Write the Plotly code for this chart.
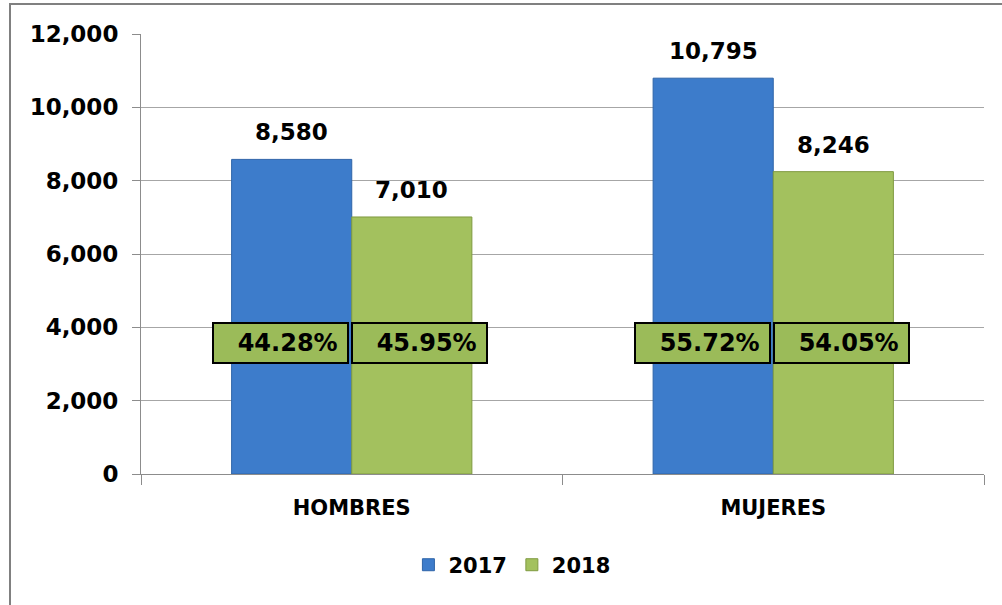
import plotly.graph_objects as go

categories = ["HOMBRES", "MUJERES"]
series_names = ["2017", "2018"]
values_2017 = [8580, 10795]
values_2018 = [7010, 8246]
pct_2017 = ["44.28%", "55.72%"]
pct_2018 = ["45.95%", "54.05%"]

FONT = "DejaVu Sans"
BLUE = "#3D7CCB"
BLUE_EDGE = "#2F64A8"
GREEN = "#A3C15E"
GREEN_EDGE = "#7F9A40"
BOX_GREEN = "#9BBB59"
PCT_LEVEL = 3573  # vertical position of the percentage boxes (axis units)

fig = go.Figure()
fig.add_trace(go.Bar(
    x=categories, y=values_2017, name=series_names[0],
    marker=dict(color=BLUE, line=dict(color=BLUE_EDGE, width=1)),
))
fig.add_trace(go.Bar(
    x=categories, y=values_2018, name=series_names[1],
    marker=dict(color=GREEN, line=dict(color=GREEN_EDGE, width=1)),
))

annotations = []
# value labels above bars
for vals, shift in ((values_2017, -60), (values_2018, 60)):
    for c, v in zip(categories, vals):
        annotations.append(dict(
            x=c, y=v, xref="x", yref="y", text=f"{v:,}", showarrow=False,
            xshift=shift, yshift=12, yanchor="bottom",
            font=dict(family=FONT, size=23, color="#000000", weight="bold"),
        ))
# percentage boxes
for pcts, shift in ((pct_2017, -71), (pct_2018, 68)):
    for c, p in zip(categories, pcts):
        annotations.append(dict(
            x=c, y=PCT_LEVEL, xref="x", yref="y", text=p + "&nbsp;", showarrow=False,
            xshift=shift, yanchor="middle", xanchor="center",
            width=131, height=36, align="right", valign="middle",
            bgcolor=BOX_GREEN, bordercolor="#000000", borderwidth=2, borderpad=1,
            font=dict(family=FONT, size=24, color="#000000", weight="bold"),
        ))

fig.update_layout(
    width=1002, height=605,
    margin=dict(l=141, r=18, t=34, b=131),
    paper_bgcolor="#FFFFFF", plot_bgcolor="#FFFFFF",
    barmode="group", bargap=0.43, bargroupgap=0,
    font=dict(family=FONT, color="#000000"),
    showlegend=True,
    legend=dict(
        orientation="h", x=0.44, y=-0.207, xanchor="center", yanchor="middle",
        font=dict(family=FONT, size=21, color="#000000", weight="bold"),
        itemwidth=30, tracegroupgap=0,
    ),
    annotations=annotations,
    shapes=[dict(
        type="rect", xref="paper", yref="paper",
        x0=-0.1554, x1=1.05, y0=-0.35, y1=1.068,
        line=dict(color="#808080", width=2), fillcolor="rgba(0,0,0,0)", layer="below",
    )],
)

fig.update_xaxes(
    showgrid=False, showline=True, linecolor="#8C8C8C", linewidth=1,
    ticks="outside", ticklen=10, tickcolor="#8C8C8C", tickson="boundaries",
    tickfont=dict(family=FONT, size=21, color="#000000", weight="bold"),
    ticklabelstandoff=15,
)
fig.update_yaxes(
    range=[0, 12000], dtick=2000, tickformat=",",
    showgrid=True, gridcolor="#A6A6A6", gridwidth=1,
    showline=True, linecolor="#8C8C8C", linewidth=1,
    ticks="outside", ticklen=8, tickcolor="#8C8C8C",
    tickfont=dict(family=FONT, size=23, color="#000000", weight="bold"),
    ticklabelstandoff=9, zeroline=False,
)

fig.write_html(
    "out.html",
    config={"displayModeBar": False},
    post_script="document.body.style.margin='0';document.body.style.overflow='hidden';",
)
